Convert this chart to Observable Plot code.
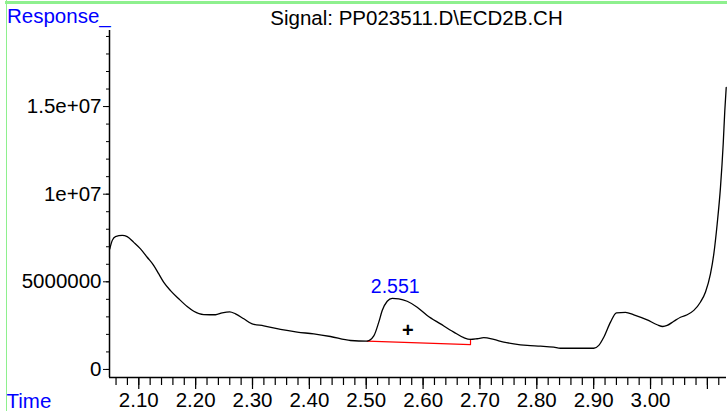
<!DOCTYPE html>
<html><head><meta charset="utf-8">
<script src="https://cdn.jsdelivr.net/npm/d3@7"></script>
<script src="https://cdn.jsdelivr.net/npm/@observablehq/plot@0.6"></script>
<style>
html,body{margin:0;padding:0;background:#fff;}
#wrap{position:relative;width:727px;height:411px;overflow:hidden;font-family:"Liberation Sans",Arial,sans-serif;}
#wrap svg{position:absolute;left:0;top:0;}
.lbl{position:absolute;white-space:nowrap;font-size:20.5px;line-height:20.5px;}
#border-top{position:absolute;left:5px;top:1px;width:722px;height:2.5px;background:#8ef08e;}
#border-left{position:absolute;left:5.5px;top:0;width:1.2px;height:411px;background:#8ef08e;}
</style></head>
<body>
<div id="wrap">
  <div id="border-top"></div>
  <div id="border-left"></div>
  <div class="lbl" id="ylab" style="left:7px;top:5.5px;color:#0000ff;">Response_</div>
  <div class="lbl" id="xlab" style="left:6.5px;top:390.5px;color:#0000ff;">Time</div>
  <div class="lbl" id="title" style="left:416.5px;top:7.5px;transform:translateX(-50%);color:#000;">Signal: PP023511.D\ECD2B.CH</div>
</div>
<script>
// Chromatogram trace (retention time in min, response counts)
const times = [2.0490,2.0532,2.0590,2.0708,2.0796,2.0912,2.1030,2.1148,2.1264,2.1352,2.1440,2.1558,2.1703,2.1851,2.1967,2.2143,2.2349,2.2467,2.2600,2.2701,2.2847,2.2994,2.3198,2.3492,2.3786,2.4078,2.4371,2.4723,2.5017,2.5133,2.5221,2.5281,2.5369,2.5457,2.5573,2.5720,2.5896,2.6072,2.6306,2.6540,2.6716,2.6834,2.6951,2.7067,2.7243,2.7419,2.7595,2.7831,2.8065,2.8299,2.8416,2.9002,2.9090,2.9178,2.9296,2.9401,2.9560,2.9706,2.9941,3.0117,3.0216,3.0293,3.0409,3.0527,3.0645,3.0761,3.0879,3.0967,3.1054,3.1113,3.1172,3.1230,3.1278,3.1306,3.1331];
const response = [6880000,7350000,7580000,7650000,7580000,7250000,6880000,6400000,5930000,5450000,4970000,4500000,4030000,3590000,3320000,3130000,3120000,3230000,3290000,3170000,2890000,2600000,2490000,2280000,2130000,2030000,1880000,1650000,1620000,1910000,2700000,3360000,3890000,4060000,4030000,3890000,3550000,3080000,2600000,2130000,1810000,1710000,1750000,1810000,1710000,1560000,1460000,1370000,1330000,1270000,1210000,1210000,1370000,1840000,2700000,3230000,3260000,3120000,2830000,2550000,2450000,2510000,2750000,2980000,3120000,3370000,3850000,4420000,5450000,6590000,8300000,10390000,12860000,14760000,16090000];

// Integrated peak
const peakLabel = ["2.551"];
const peakApexTime = [2.551];
const peakApexResponse = [4060000];
const peakCentroidTime = [2.573];
const peakCentroidResponse = [2220000];
const baselineTimes = [2.5017, 2.6834, 2.6834];
const baselineResponse = [1620000, 1420000, 1710000];

// Axes
const xDomain = [2.0485, 3.1336];
const yDomain = [-460000, 19340000];
const xMajorTicks = [2.1,2.2,2.3,2.4,2.5,2.6,2.7,2.8,2.9,3.0,3.1];
const xTickLabels = ["2.10","2.20","2.30","2.40","2.50","2.60","2.70","2.80","2.90","3.00",""];
const xMinorTicks = d3.range(103, 157).map(k => k * 0.02);
const yTickValues = [0, 5000000, 10000000, 15000000];
const yTickLabels = ["0", "5000000", "1e+07", "1.5e+07"];
const yMinorTicks = d3.range(0, 20).map(k => k * 1000000);

const trace = times.map((t, i) => ({t, v: response[i]}));
const base = baselineTimes.map((t, i) => ({t, v: baselineResponse[i]}));
const apex = peakLabel.map((s, i) => ({s, t: peakApexTime[i], v: peakApexResponse[i]}));
const centroid = peakCentroidTime.map((t, i) => ({t, v: peakCentroidResponse[i]}));

const fmtX = d => { const i = xMajorTicks.findIndex(v => Math.abs(v - d) < 1e-9); return i >= 0 ? xTickLabels[i] : ""; };
const fmtY = d => { const i = yTickValues.findIndex(v => Math.abs(v - d) < 1e-3); return i >= 0 ? yTickLabels[i] : ""; };

const chart = Plot.plot({
  width: 727, height: 411,
  marginLeft: 109, marginRight: 1, marginTop: 30, marginBottom: 34,
  style: {fontFamily: '"Liberation Sans", Arial, sans-serif', fontSize: "20.5px", color: "#000", background: "transparent", overflow: "visible"},
  x: {domain: xDomain, label: null},
  y: {domain: yDomain, label: null},
  marks: [
    Plot.axisY({ticks: yMinorTicks, tickSize: 3, tickFormat: () => "", label: null, strokeWidth: 1}),
    Plot.axisY({ticks: yTickValues, tickSize: 6, tickPadding: 2, tickFormat: fmtY, label: null, strokeWidth: 1}),
    Plot.axisX({ticks: xMinorTicks, tickSize: 8, tickFormat: () => "", label: null, strokeWidth: 1.2}),
    Plot.axisX({ticks: xMajorTicks, tickSize: 12, tickPadding: 3, tickFormat: fmtX, label: null, strokeWidth: 1.2}),
    Plot.ruleX([xDomain[0]], {stroke: "#000", strokeWidth: 1.5}),
    Plot.ruleY([yDomain[0]], {stroke: "#000", strokeWidth: 1.5}),
    Plot.line(base, {x: "t", y: "v", stroke: "#ff0000", strokeWidth: 1.2}),
    Plot.line(trace, {x: "t", y: "v", stroke: "#000", strokeWidth: 1.3, curve: "monotone-x"}),
    Plot.text(apex, {x: "t", y: "v", text: "s", fill: "#0000ff", fontSize: 19.5, dy: -12}),
    Plot.text(centroid, {x: "t", y: "v", text: () => "+", fill: "#000", fontSize: 20, fontWeight: "bold"})
  ]
});
document.getElementById("wrap").prepend(chart);
</script>
</body></html>
